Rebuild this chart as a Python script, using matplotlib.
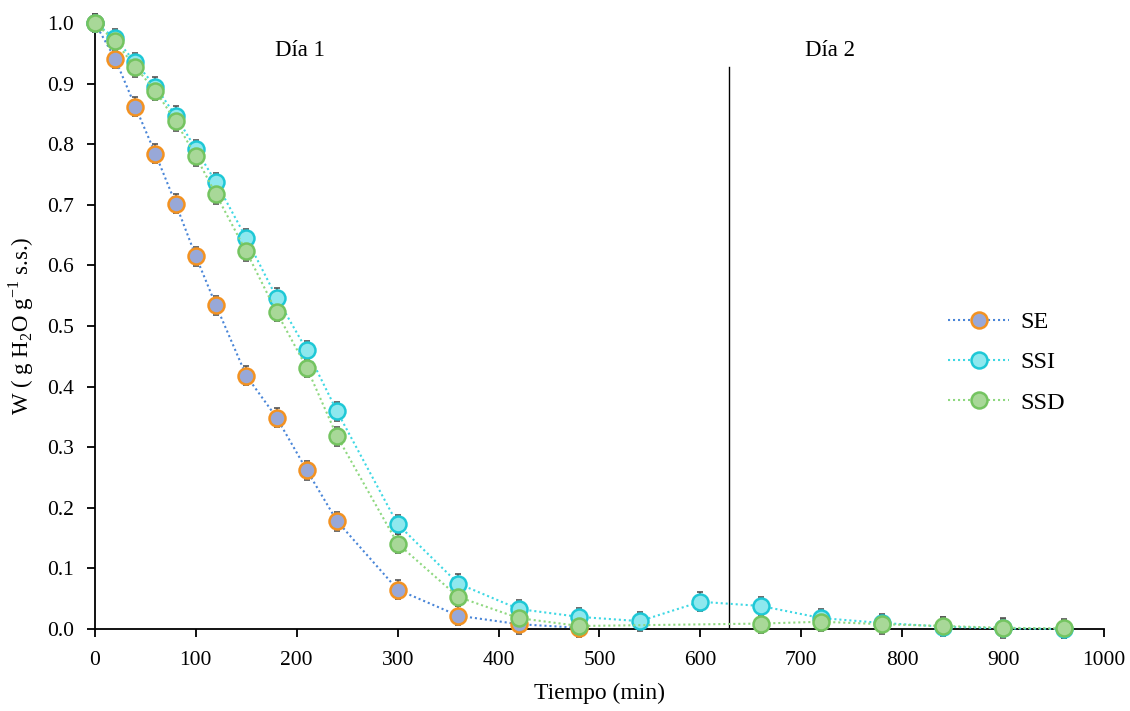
import matplotlib.pyplot as plt

plt.rcParams['font.family'] = ['Liberation Serif', 'DejaVu Serif']
plt.rcParams['mathtext.fontset'] = 'custom'
plt.rcParams['mathtext.rm'] = 'Liberation Serif'

# Drying curves: moisture content W vs time
t_se = [0, 20, 40, 60, 80, 100, 120, 150, 180, 210, 240, 300, 360, 420, 480]
w_se = [1.0, 0.941, 0.862, 0.784, 0.702, 0.615, 0.534, 0.418, 0.349, 0.262,
        0.178, 0.065, 0.022, 0.008, 0.002]

t_ssi = [0, 20, 40, 60, 80, 100, 120, 150, 180, 210, 240, 300, 360, 420, 480,
         540, 600, 660, 720, 780, 840, 900, 960]
w_ssi = [1.0, 0.975, 0.935, 0.895, 0.847, 0.792, 0.737, 0.645, 0.547, 0.460,
         0.359, 0.173, 0.075, 0.033, 0.020, 0.013, 0.045, 0.038, 0.018, 0.010,
         0.004, 0.001, 0.000]

t_ssd = [0, 20, 40, 60, 80, 100, 120, 150, 180, 210, 240, 300, 360, 420, 480,
         660, 720, 780, 840, 900, 960]
w_ssd = [1.0, 0.970, 0.927, 0.888, 0.838, 0.780, 0.717, 0.623, 0.523, 0.431,
         0.318, 0.141, 0.053, 0.018, 0.005, 0.009, 0.012, 0.008, 0.005, 0.002,
         0.001]

err = 0.0155
x_ticks = [0, 100, 200, 300, 400, 500, 600, 700, 800, 900, 1000]
y_ticks = [0.0, 0.1, 0.2, 0.3, 0.4, 0.5, 0.6, 0.7, 0.8, 0.9, 1.0]
day_split = 628

fig = plt.figure(figsize=(11.3, 7.11), dpi=100)
ax = fig.add_axes([0.084, 0.1153, 0.893, 0.8524])

series = [
    (t_se, w_se, 'SE', '#4a86d8', '#98a8d8', '#f39221'),
    (t_ssi, w_ssi, 'SSI', '#3fd8e4', '#8ee8ee', '#1ec8d6'),
    (t_ssd, w_ssd, 'SSD', '#8fd880', '#a8d898', '#74c460'),
]
for t, w, lab, lc, fc, ec in series:
    ax.errorbar(t, w, yerr=err, fmt='none', ecolor='#555555', elinewidth=1.2,
                capsize=2.5, capthick=1.2, zorder=2, clip_on=False)
    ax.plot(t, w, linestyle=(0, (1, 1.4)), color=lc, linewidth=1.5,
            marker='o', markersize=11.5, markerfacecolor=fc,
            markeredgecolor=ec, markeredgewidth=1.8, label=lab, zorder=3,
            clip_on=False)

ax.plot([day_split, day_split], [0, 0.928], color='black', linewidth=1.0)
ax.text(203, 0.955, 'Día 1', fontsize=16.5, ha='center', va='center')
ax.text(728, 0.955, 'Día 2', fontsize=16.5, ha='center', va='center')

ax.set_xlim(0, 1000)
ax.set_ylim(0, 1.0)
ax.set_xticks(x_ticks)
ax.set_yticks(y_ticks)
ax.set_yticklabels([f'{v:.1f}' for v in y_ticks])
ax.tick_params(labelsize=15.5, direction='out', length=6, width=1.3)
ax.tick_params(axis='x', pad=10)
ax.tick_params(axis='y', pad=9)
for s in ['top', 'right']:
    ax.spines[s].set_visible(False)
for s in ['left', 'bottom']:
    ax.spines[s].set_linewidth(1.3)

ax.set_xlabel('Tiempo (min)', fontsize=17, labelpad=9)
ax.set_ylabel(r'W ( g H$_\mathregular{2}$O g$^\mathregular{-1}$ s.s.)',
              fontsize=16.5, labelpad=8)

ax.legend(loc='center left', bbox_to_anchor=(0.824, 0.44), frameon=False,
          fontsize=17.5, labelspacing=0.75, handlelength=2.5,
          handletextpad=0.45)

fig.savefig('out.png', dpi=100)
